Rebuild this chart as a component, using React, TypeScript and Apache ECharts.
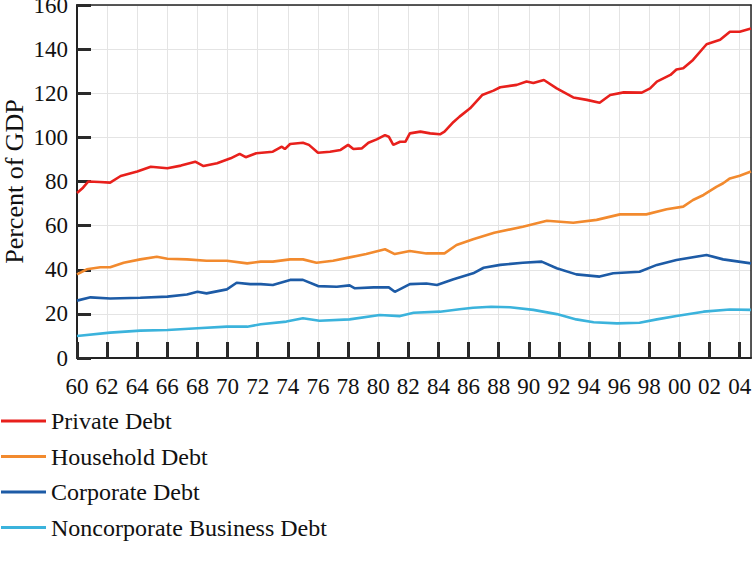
import React, { useEffect, useRef } from "react";
import * as echarts from "echarts";

// Debt ratios, percent of GDP: [year, value]
const privateDebt: [number, number][] = [
  [1960.0, 74.8], [1960.4, 77.2], [1960.75, 80.0], [1961.5, 79.8], [1962.2, 79.5],
  [1962.9, 82.5], [1964.0, 84.5], [1964.9, 86.7], [1966.0, 86.0], [1966.9, 87.2],
  [1967.85, 89.0], [1968.4, 87.0], [1969.3, 88.3], [1970.2, 90.5], [1970.8, 92.5],
  [1971.2, 91.0], [1971.9, 92.8], [1973.0, 93.5], [1973.6, 95.8], [1973.8, 94.7],
  [1974.15, 97.0], [1975.0, 97.6], [1975.4, 96.6], [1976.0, 93.0], [1976.8, 93.5],
  [1977.5, 94.3], [1978.0, 96.6], [1978.35, 94.7], [1978.9, 95.0], [1979.35, 97.6],
  [1979.9, 99.1], [1980.45, 101.0], [1980.7, 100.3], [1981.0, 96.6], [1981.45, 98.0],
  [1981.8, 98.0], [1982.1, 101.8], [1982.8, 102.6], [1983.45, 101.8], [1984.1, 101.4],
  [1984.4, 102.6], [1985.0, 107.0], [1985.4, 109.4], [1986.1, 113.2], [1986.9, 119.2],
  [1987.65, 121.2], [1988.1, 122.7], [1989.2, 123.8], [1989.85, 125.3], [1990.3, 124.6],
  [1991.0, 126.0], [1991.85, 122.2], [1992.95, 118.1], [1993.85, 117.0], [1994.7, 115.7],
  [1995.4, 119.2], [1996.3, 120.4], [1997.5, 120.3], [1998.05, 122.2], [1998.5, 125.3],
  [1999.4, 128.3], [1999.8, 130.8], [2000.25, 131.3], [2000.9, 135.1], [2001.8, 142.2],
  [2002.7, 144.2], [2003.35, 147.9], [2004.0, 147.9], [2004.75, 149.4],
];

const householdDebt: [number, number][] = [
  [1960.0, 37.9], [1960.65, 40.2], [1961.55, 41.1], [1962.2, 41.1], [1963.1, 43.2],
  [1964.2, 44.7], [1965.3, 45.9], [1966.0, 45.0], [1967.3, 44.7], [1968.6, 44.1],
  [1969.95, 44.1], [1971.3, 42.9], [1972.2, 43.7], [1973.0, 43.7], [1974.15, 44.7],
  [1975.0, 44.7], [1975.9, 43.2], [1977.0, 44.1], [1978.1, 45.6], [1979.2, 47.1],
  [1980.45, 49.3], [1981.1, 47.1], [1982.1, 48.5], [1983.2, 47.4], [1984.4, 47.4],
  [1985.2, 51.2], [1986.3, 53.8], [1987.7, 56.8], [1989.6, 59.5], [1991.2, 62.2],
  [1992.95, 61.3], [1994.5, 62.6], [1996.05, 65.1], [1997.8, 65.1], [1999.15, 67.4],
  [2000.25, 68.6], [2000.9, 71.6], [2001.6, 73.9], [2002.45, 77.6], [2002.9, 79.2],
  [2003.35, 81.4], [2004.0, 82.6], [2004.75, 84.5],
];

const corporateDebt: [number, number][] = [
  [1960.0, 26.0], [1960.9, 27.5], [1962.2, 27.0], [1964.2, 27.3], [1966.0, 27.8],
  [1967.3, 28.8], [1968.0, 30.0], [1968.6, 29.3], [1969.95, 31.1], [1970.6, 34.1],
  [1971.5, 33.5], [1972.2, 33.5], [1973.0, 33.1], [1974.15, 35.4], [1975.0, 35.4],
  [1976.0, 32.6], [1977.25, 32.3], [1978.1, 32.9], [1978.45, 31.6], [1979.7, 32.0],
  [1980.7, 32.0], [1981.1, 30.0], [1982.1, 33.5], [1983.2, 33.8], [1983.9, 33.1],
  [1985.0, 35.7], [1986.3, 38.4], [1987.0, 40.9], [1988.1, 42.2], [1989.6, 43.2],
  [1990.85, 43.7], [1991.85, 40.7], [1993.15, 37.9], [1994.7, 36.9], [1995.6, 38.4],
  [1997.35, 39.1], [1998.5, 42.2], [1999.8, 44.4], [2001.8, 46.7], [2002.9, 44.7],
  [2004.75, 42.9],
];

const noncorporateDebt: [number, number][] = [
  [1960.0, 10.0], [1962.2, 11.5], [1964.2, 12.4], [1966.0, 12.7], [1968.0, 13.5],
  [1969.95, 14.2], [1971.3, 14.2], [1972.2, 15.3], [1973.9, 16.5], [1975.0, 18.0],
  [1976.1, 16.9], [1978.1, 17.5], [1980.1, 19.5], [1981.45, 19.0], [1982.35, 20.5],
  [1984.1, 21.0], [1985.4, 22.1], [1986.3, 22.8], [1987.5, 23.2], [1988.75, 23.0],
  [1990.3, 21.8], [1991.85, 19.9], [1993.15, 17.5], [1994.3, 16.2], [1995.85, 15.7],
  [1997.35, 16.0], [1998.5, 17.5], [1999.8, 19.0], [2001.6, 21.0], [2003.35, 22.0],
  [2004.75, 21.8],
];

const seriesNames = [
  "Private Debt",
  "Household Debt",
  "Corporate Debt",
  "Noncorporate Business Debt",
];
const seriesColors = ["#e8201c", "#f28a2e", "#1d5ba6", "#3bb3dc"];
const seriesData = [privateDebt, householdDebt, corporateDebt, noncorporateDebt];

const FONT = "'Liberation Serif', 'Times New Roman', serif";

const X_RANGE = { min: 1960, max: 2004.75, interval: 2 };
const Y_RANGE = { min: 0, max: 160, interval: 20 };
const GRID_COLOR = "#e4e4e4";
const FRAME_COLOR = "#222";
const TICK_COLOR = "#2a2a2a";

// An axis that only draws its line: used for the top and right frame edges
const frameOnly = (position: string, range: object) => ({
  type: "value",
  ...range,
  position,
  axisLine: { show: true, onZero: false, lineStyle: { color: FRAME_COLOR, width: 1.5 } },
  axisTick: { show: false },
  axisLabel: { show: false },
  splitLine: { show: false },
});

export default function App() {
  const ref = useRef<HTMLDivElement>(null);

  useEffect(() => {
    if (!ref.current) return;
    const chart = echarts.init(ref.current, null, { renderer: "svg" });
    chart.setOption({
      animation: false,
      backgroundColor: "#ffffff",
      grid: {
        left: 77,
        top: 5,
        right: 3,
        bottom: 204,
        outerBoundsMode: "none",
      },
      legend: {
        orient: "vertical",
        left: 1,
        top: 409,
        padding: 0,
        itemWidth: 45,
        itemHeight: 3,
        itemGap: 11.5,
        icon: "rect",
        data: seriesNames,
        textStyle: { fontFamily: FONT, fontSize: 24, color: "#111" },
      },
      xAxis: [
        {
          type: "value",
          ...X_RANGE,
          position: "bottom",
          axisLine: { show: true, onZero: false, lineStyle: { color: FRAME_COLOR, width: 2 } },
          axisTick: { show: true, inside: true, length: 16, lineStyle: { color: TICK_COLOR, width: 3 } },
          splitLine: { show: true, lineStyle: { color: GRID_COLOR, width: 1 } },
          axisLabel: {
            fontFamily: FONT,
            fontSize: 23,
            color: "#111",
            margin: 17,
            showMaxLabel: false,
            formatter: (v: number) =>
              Number.isInteger(v) && v % 2 === 0 ? String(v % 100).padStart(2, "0") : "",
          },
        },
        frameOnly("top", X_RANGE),
      ],
      yAxis: [
        {
          type: "value",
          ...Y_RANGE,
          position: "left",
          name: "Percent of GDP",
          nameLocation: "middle",
          nameGap: 50,
          nameMoveOverlap: false,
          nameTextStyle: { fontFamily: FONT, fontSize: 26, color: "#111" },
          axisLine: { show: true, onZero: false, lineStyle: { color: FRAME_COLOR, width: 2 } },
          axisTick: { show: true, inside: true, length: 14, lineStyle: { color: TICK_COLOR, width: 3 } },
          splitLine: { show: true, lineStyle: { color: GRID_COLOR, width: 1 } },
          axisLabel: { fontFamily: FONT, fontSize: 23, color: "#111", margin: 9 },
        },
        frameOnly("right", Y_RANGE),
      ],
      series: seriesNames.map((name, i) => ({
        name,
        type: "line",
        xAxisIndex: 0,
        yAxisIndex: 0,
        data: seriesData[i],
        showSymbol: false,
        symbol: "none",
        smooth: false,
        lineStyle: { color: seriesColors[i], width: 2.6 },
        itemStyle: { color: seriesColors[i] },
        z: 10 - i,
      })),
    });
    return () => chart.dispose();
  }, []);

  return (
    <div
      ref={ref}
      style={{ position: "absolute", left: 0, top: 0, width: 754, height: 562 }}
    />
  );
}
